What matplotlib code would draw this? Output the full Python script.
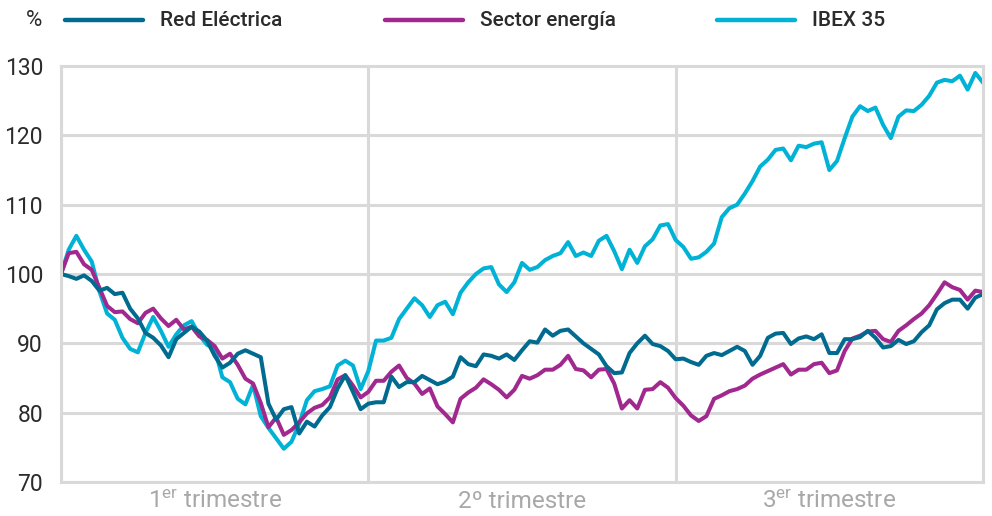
import numpy as np
import matplotlib
matplotlib.use("Agg")
import matplotlib.pyplot as plt
from matplotlib.lines import Line2D

plt.rcParams['font.family'] = ['Roboto', 'DejaVu Sans']
plt.rcParams['mathtext.default'] = 'regular'

# index values (base 100), 40 readings per quarter
red_electrica = [
    100.0, 99.7, 99.3, 99.8, 99.0, 97.6, 98.0, 97.1, 97.3, 95.0,
    93.6, 91.5, 90.8, 89.7, 88.0, 90.6, 91.5, 92.4, 91.7, 90.4,
    88.2, 86.5, 87.2, 88.5, 89.0, 88.5, 88.0, 81.3, 79.0, 80.5,
    80.8, 77.0, 78.7, 78.0, 79.6, 80.8, 83.5, 85.4, 83.0, 80.5,
    81.3, 81.5, 81.5, 85.2, 83.7, 84.4, 84.4, 85.3, 84.7, 84.1,
    84.5, 85.2, 88.0, 87.0, 86.7, 88.4, 88.2, 87.8, 88.4, 87.6,
    89.0, 90.3, 90.1, 92.0, 91.1, 91.8, 92.0, 91.0, 90.0, 89.2,
    88.4, 86.7, 85.7, 85.8, 88.6, 90.0, 91.1, 89.9, 89.6, 88.9,
    87.7, 87.8, 87.3, 86.9, 88.2, 88.6, 88.3, 88.9, 89.5, 88.9,
    86.9, 88.2, 90.8, 91.4, 91.5, 89.9, 90.7, 91.0, 90.6, 91.3,
    88.6, 88.6, 90.6, 90.6, 90.9, 91.8, 90.8, 89.4, 89.6, 90.5,
    89.9, 90.3, 91.6, 92.6, 94.9, 95.8, 96.3, 96.3, 95.0, 96.6,
    97.1,
]
sector_energia = [
    100.0, 103.0, 103.2, 101.4, 100.6, 98.0, 95.4, 94.5, 94.6, 93.5,
    92.9, 94.4, 95.0, 93.6, 92.5, 93.4, 92.0, 92.4, 91.0, 90.5,
    89.6, 87.8, 88.5, 86.9, 84.9, 84.2, 81.4, 77.9, 79.3, 76.8,
    77.5, 78.6, 79.9, 80.7, 81.1, 82.2, 84.8, 85.4, 83.9, 82.2,
    83.0, 84.6, 84.6, 85.9, 86.8, 85.0, 84.2, 82.7, 83.5, 80.9,
    79.8, 78.6, 82.0, 82.9, 83.6, 84.8, 84.1, 83.3, 82.2, 83.3,
    85.3, 84.9, 85.4, 86.2, 86.2, 86.9, 88.2, 86.3, 86.1, 85.1,
    86.2, 86.3, 84.2, 80.6, 81.8, 80.6, 83.3, 83.4, 84.4, 83.6,
    82.1, 81.0, 79.6, 78.8, 79.5, 82.0, 82.5, 83.1, 83.4, 83.9,
    84.9, 85.5, 86.0, 86.5, 87.0, 85.5, 86.2, 86.2, 87.0, 87.2,
    85.7, 86.1, 88.9, 90.7, 91.1, 91.7, 91.8, 90.6, 90.2, 91.8,
    92.6, 93.5, 94.3, 95.5, 97.1, 98.8, 98.1, 97.7, 96.3, 97.6,
    97.4,
]
ibex_35 = [
    100.0, 103.5, 105.5, 103.5, 101.8, 97.5, 94.3, 93.4, 90.8, 89.2,
    88.7, 91.5, 93.8, 91.8, 89.5, 91.3, 92.6, 93.2, 91.2, 89.8,
    89.2, 85.1, 84.4, 82.0, 81.2, 84.0, 79.5, 77.8, 76.3, 74.8,
    75.8, 78.4, 81.8, 83.1, 83.4, 83.8, 86.8, 87.5, 86.8, 83.4,
    86.0, 90.4, 90.4, 90.8, 93.5, 95.0, 96.5, 95.5, 93.8, 95.5,
    96.0, 94.2, 97.3, 98.8, 100.0, 100.8, 101.0, 98.5, 97.4, 98.8,
    101.6, 100.6, 101.0, 102.0, 102.6, 103.0, 104.6, 102.6, 103.1, 102.6,
    104.8, 105.5, 103.3, 100.7, 103.5, 101.6, 104.0, 105.0, 107.0, 107.2,
    104.9, 103.9, 102.2, 102.4, 103.2, 104.4, 108.2, 109.5, 110.0, 111.6,
    113.4, 115.5, 116.5, 117.9, 118.1, 116.4, 118.5, 118.3, 118.8, 119.0,
    115.0, 116.3, 119.6, 122.7, 124.2, 123.5, 124.0, 121.5, 119.6, 122.7,
    123.6, 123.5, 124.4, 125.7, 127.6, 128.0, 127.8, 128.6, 126.6, 129.0,
    127.6,
]
quarters = ['1$^{er}$ trimestre', '2º trimestre', '3$^{er}$ trimestre']
series_names = ['Red Eléctrica', 'Sector energía', 'IBEX 35']
colors = ['#006b8f', '#a0288e', '#00b2d6']

x = np.arange(len(ibex_35)) / 40.0

fig = plt.figure(figsize=(9.92, 5.16), dpi=100)
ax = fig.add_axes([61/992, 34/516, 922/992, 416/516])

ax.plot(x, ibex_35, color=colors[2], lw=2.9, solid_joinstyle='round')
ax.plot(x, sector_energia, color=colors[1], lw=2.9, solid_joinstyle='round')
ax.plot(x, red_electrica, color=colors[0], lw=2.9, solid_joinstyle='round')

ax.set_xlim(0, 3)
ax.set_ylim(70, 130)
ax.set_yticks(np.arange(70, 131, 10))
ax.set_xticks([0, 1, 2, 3])
ax.set_xticklabels([])
ax.set_xticks([0.5, 1.5, 2.5], minor=True)
ax.set_xticklabels(quarters, minor=True)
ax.tick_params(axis='both', which='both', length=0)
ax.tick_params(axis='y', labelsize=16.5, labelcolor='#2b2b2b', pad=13)
ax.tick_params(axis='x', which='minor', labelsize=17.5, labelcolor='#a8a8a8', pad=6)
ax.grid(True, color='#d9d9d9', lw=2.2)
ax.set_axisbelow(True)
for s in ax.spines.values():
    s.set_color('#d9d9d9')
    s.set_linewidth(2.2)

# legend across the top
fig.text(42/992, 1 - 20/516, '%', ha='right', va='center', fontsize=16, color='#2b2b2b')
handle_x = [65, 385, 717]
for hx, name, c in zip(handle_x, series_names, colors):
    fig.add_artist(Line2D([hx/992, (hx + 78)/992], [1 - 20/516] * 2, color=c, lw=3.2,
                          solid_capstyle='round', transform=fig.transFigure))
    fig.text((hx + 95)/992, 1 - 20/516, name, ha='left', va='center', fontsize=15,
             fontweight='medium', color='#2b2b2b')

plt.savefig("out.png", dpi=100)
